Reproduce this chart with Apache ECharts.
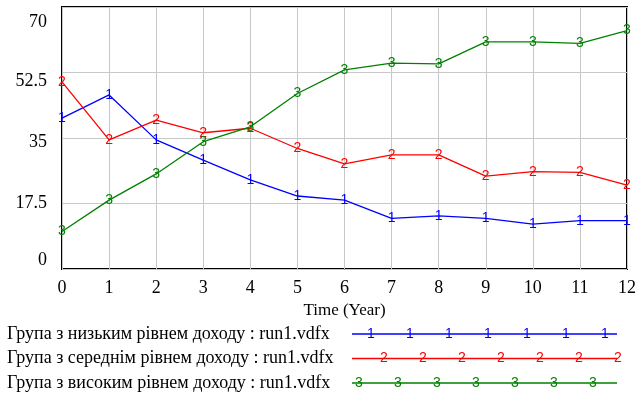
<!DOCTYPE html>
<html>
<head>
<meta charset="utf-8">
<script src="https://cdn.jsdelivr.net/npm/echarts@6/dist/echarts.min.js"></script>
<style>
  html, body { margin: 0; padding: 0; background: #fff; }
  #main { width: 639px; height: 399px; }
</style>
</head>
<body>
<div id="main"></div>
<script>
var years = [0, 1, 2, 3, 4, 5, 6, 7, 8, 9, 10, 11, 12];
var lowIncome = [40.3, 46.5, 34.5, 29.1, 23.8, 19.5, 18.4, 13.5, 14.2, 13.5, 12.0, 12.9, 12.9];
var midIncome = [50.0, 34.5, 39.8, 36.4, 37.6, 32.2, 28.1, 30.5, 30.5, 24.8, 26.0, 25.8, 22.4];
var highIncome = [10.0, 18.4, 25.4, 34.0, 38.0, 46.9, 53.2, 55.0, 54.8, 60.7, 60.7, 60.3, 63.7];
var names = [
  'Група з низьким рівнем доходу : run1.vdfx',
  'Група з середнім рівнем доходу : run1.vdfx',
  'Група з високим рівнем доходу : run1.vdfx'
];
var marks = ['1', '2', '3'];
var colors = ['#0000ff', '#ff0000', '#008000'];

var chart = echarts.init(document.getElementById('main'));
var serif = '"Liberation Serif", "Times New Roman", serif';
var sans = '"Liberation Sans", Arial, sans-serif';

function pairs(vals) {
  return years.map(function (x, i) { return [x, vals[i]]; });
}

function makeSeries(i, vals) {
  return {
    name: names[i],
    type: 'line',
    data: pairs(vals),
    symbol: 'circle',
    symbolSize: 0,
    color: colors[i],
    lineStyle: { color: colors[i], width: 1.3 },
    label: {
      show: true,
      position: 'inside',
      formatter: marks[i],
      color: colors[i],
      fontFamily: sans,
      fontSize: 14
    },
    emphasis: { disabled: true },
    animation: false
  };
}

// digits drawn along the legend lines (decoration only)
var legendMarks = [];
var rowY = [334, 358.5, 383];
var rowStart = [371, 384, 359];
for (var r = 0; r < 3; r++) {
  for (var k = 0; k < 7; k++) {
    legendMarks.push({
      type: 'text',
      x: rowStart[r] + k * 39,
      y: rowY[r],
      z: 10,
      style: {
        text: marks[r],
        fill: colors[r],
        font: '14px ' + sans,
        align: 'center',
        verticalAlign: 'middle'
      }
    });
  }
}

// Vensim puts its y labels a little below the grid lines
var yShift = { '70': 6, '52.5': 18, '35': 8 };

var option = {
  backgroundColor: '#fff',
  animation: false,
  grid: {
    left: 62,
    right: 12,
    top: 7,
    bottom: 130,
    show: true,
    borderColor: '#000',
    borderWidth: 2
  },
  xAxis: {
    type: 'value',
    min: 0,
    max: 12,
    interval: 1,
    name: 'Time (Year)',
    nameLocation: 'middle',
    nameGap: 30,
    nameTextStyle: { fontFamily: serif, fontSize: 17, color: '#000' },
    axisLine: { show: false },
    axisTick: { show: false },
    axisLabel: { fontFamily: serif, fontSize: 18, color: '#000', margin: 10 },
    splitLine: { show: true, lineStyle: { color: '#c8c8c8', width: 1 } }
  },
  yAxis: {
    type: 'value',
    min: 0,
    max: 70,
    interval: 17.5,
    axisLine: { show: false },
    axisTick: { show: false },
    axisLabel: {
      fontFamily: serif, fontSize: 18, color: '#000', margin: 15,
      verticalAlignMinLabel: 'bottom',
      verticalAlignMaxLabel: 'top',
      formatter: function (v) {
        var s = String(v);
        return yShift[s] ? '{s' + yShift[s] + '|' + s + '}' : s;
      },
      rich: {
        s6: { fontFamily: serif, fontSize: 18, padding: [6, 0, 0, 0] },
        s18: { fontFamily: serif, fontSize: 18, padding: [18, 0, 0, 0] },
        s8: { fontFamily: serif, fontSize: 18, padding: [8, 0, 0, 0] }
      }
    },
    splitLine: { show: true, lineStyle: { color: '#c8c8c8', width: 1 } }
  },
  legend: {
    orient: 'vertical',
    left: 7,
    top: 325,
    padding: 0,
    height: 80,
    align: 'right',
    itemWidth: 265,
    itemHeight: 18,
    itemGap: 6.5,
    selectedMode: false,
    itemStyle: { opacity: 0 },
    lineStyle: { width: 1.3 },
    formatter: function (name) { return '{t|' + name + '}'; },
    textStyle: {
      fontFamily: serif, fontSize: 18, color: '#000', lineHeight: 18,
      rich: {
        t: { fontFamily: serif, fontSize: 18, color: '#000', width: 340, align: 'left' }
      }
    },
    data: names
  },
  graphic: legendMarks,
  series: [
    makeSeries(0, lowIncome),
    makeSeries(1, midIncome),
    makeSeries(2, highIncome)
  ]
};

chart.setOption(option);
</script>
</body>
</html>
